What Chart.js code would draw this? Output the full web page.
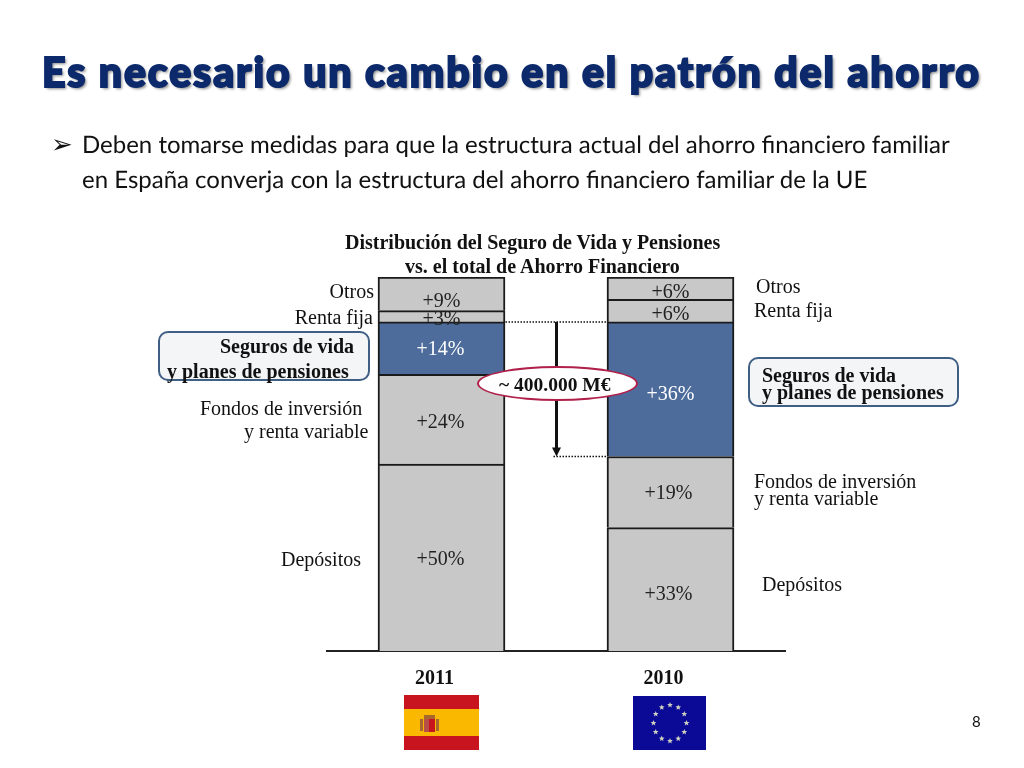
<!DOCTYPE html>
<html lang="es">
<head>
<meta charset="utf-8">
<title>Es necesario un cambio en el patrón del ahorro</title>
<script src="https://cdn.jsdelivr.net/npm/chart.js@4"></script>
<style>
  html, body { margin: 0; background: #fff; }
  #slide { position: relative; width: 1024px; height: 768px; overflow: hidden; }
  #salesChart { position: absolute; left: 0; top: 0; }
  .t { position: absolute; white-space: nowrap; line-height: 1; }
  .serif { font-family: "Liberation Serif", serif; font-size: 20px; color: #111; }
  .b { font-weight: bold; }
  .r { text-align: right; }
  .body { font-family: Lato, sans-serif; font-size: 24px; color: #111; text-rendering: geometricPrecision; }
  #title { left: 42px; top: 51px; font-family: Lato, sans-serif; font-weight: 900; font-size: 41px; letter-spacing: 1.9px;
    color: #0c2a6b; -webkit-text-stroke: 2px #0c2a6b; text-shadow: 2px 2px 3px #888; }
  .box { position: absolute; background: #f4f5f7; border: 2px solid #3f5f85; border-radius: 10px; box-sizing: border-box; }
  #pill { position: absolute; left: 477px; top: 366px; width: 161px; height: 35px; background: #fff;
    border: 2px solid #b0204a; border-radius: 50%; box-sizing: border-box; }
</style>
</head>
<body>
<div id="slide">
  <canvas id="salesChart" width="1024" height="768"></canvas>

  <div id="title" class="t">Es necesario un cambio en el patrón del ahorro</div>
  <div class="t" style="left:51px;top:131px;font-family:'DejaVu Sans';font-size:26px;color:#111">➢</div>
  <div class="t body" style="left:82px;top:133px">Deben tomarse medidas para que la estructura actual del ahorro financiero familiar</div>
  <div class="t body" style="left:82px;top:168px">en España converja con la estructura del ahorro financiero familiar de la UE</div>

  <div class="t serif b" style="left:345px;top:232px">Distribución del Seguro de Vida y Pensiones</div>
  <div class="t serif b" style="left:405px;top:256px">vs. el total de Ahorro Financiero</div>

  <div class="t serif r" style="right:650px;top:281px">Otros</div>
  <div class="t serif r" style="right:651px;top:307px">Renta fija</div>
  <div class="box" style="left:158px;top:331px;width:212px;height:50px"></div>
  <div class="t serif b" style="left:220px;top:336px">Seguros de vida</div>
  <div class="t serif b" style="left:167px;top:361px">y planes de pensiones</div>
  <div class="t serif" style="left:200px;top:398px">Fondos de inversión</div>
  <div class="t serif" style="left:244px;top:421px">y renta variable</div>
  <div class="t serif" style="left:281px;top:549px">Depósitos</div>

  <div class="t serif" style="left:756px;top:276px">Otros</div>
  <div class="t serif" style="left:754px;top:300px">Renta fija</div>
  <div class="box" style="left:748px;top:357px;width:211px;height:50px"></div>
  <div class="t serif b" style="left:762px;top:365px">Seguros de vida</div>
  <div class="t serif b" style="left:762px;top:382px">y planes de pensiones</div>
  <div class="t serif" style="left:754px;top:471px">Fondos de inversión</div>
  <div class="t serif" style="left:754px;top:488px">y renta variable</div>
  <div class="t serif" style="left:762px;top:574px">Depósitos</div>

  <div id="pill"></div>
  <div class="t serif b" style="left:499px;top:375px;font-size:19.5px">~ 400.000 M€</div>

  <div class="t" style="left:972px;top:714px;font-family:Lato,sans-serif;font-size:15px;color:#111">8</div>
</div>

<script>
const years = ['2011', '2010'];
const depositos = [50, 33];
const fondos = [24, 19];
const seguros = [14, 36];
const rentaFija = [3, 6];
const otros = [9, 6];

// value of the dotted guide lines (top of seguros in each bar, and the level the 2011 bar should reach)
const guideTop = 88;
const guideBottom = 52;

const gray = '#c8c8c8';
const blue = '#4d6c9c';
const edge = '#1a1a1a';

function set(name, data, color) {
  return { label: name, data: data, backgroundColor: color, borderColor: edge, borderWidth: 2, barThickness: 127, stack: 's' };
}

// the percentages sit a little off centre in the slide, [dx, dy] per dataset and bar
const labelShift = [
  [[-1, 2], [-2, 5]],
  [[-1, 4], [-2, 2]],
  [[-1, 2], [0, 6]],
  [[0, 3], [0, 4]],
  [[0, 8], [0, 5]]
];

const valueLabels = {
  id: 'valueLabels',
  afterDatasetsDraw(chart) {
    const ctx = chart.ctx;
    ctx.save();
    ctx.font = '20px "Liberation Serif"';
    ctx.textAlign = 'center';
    ctx.textBaseline = 'middle';
    chart.data.datasets.forEach((ds, i) => {
      chart.getDatasetMeta(i).data.forEach((bar, j) => {
        ctx.fillStyle = ds.backgroundColor === blue ? '#fff' : '#222';
        const s = labelShift[i][j];
        ctx.fillText('+' + ds.data[j] + '%', bar.x + s[0], (bar.y + bar.base) / 2 + s[1]);
      });
    });
    ctx.restore();
  }
};

const guides = {
  id: 'guides',
  afterDatasetsDraw(chart) {
    const ctx = chart.ctx;
    const y = chart.scales.y;
    const yTop = y.getPixelForValue(guideTop);
    const yBot = y.getPixelForValue(guideBottom);
    const bars = chart.getDatasetMeta(0).data;
    const left = bars[0].x + 64;
    const right = bars[1].x - 63;
    const mid = 556.5;
    ctx.save();
    ctx.strokeStyle = '#111';
    ctx.lineWidth = 1.5;
    ctx.setLineDash([1.5, 1.5]);
    ctx.beginPath();
    ctx.moveTo(left, yTop); ctx.lineTo(right, yTop);
    ctx.moveTo(mid - 3, yBot); ctx.lineTo(right, yBot);
    ctx.stroke();
    ctx.setLineDash([]);
    ctx.lineWidth = 3;
    ctx.beginPath();
    ctx.moveTo(mid, yTop); ctx.lineTo(mid, yBot - 6);
    ctx.stroke();
    ctx.fillStyle = '#111';
    ctx.beginPath();
    ctx.moveTo(mid - 4.5, yBot - 9); ctx.lineTo(mid + 4.5, yBot - 9); ctx.lineTo(mid, yBot); ctx.closePath();
    ctx.fill();
    ctx.restore();
  }
};

function star(ctx, cx, cy, r) {
  ctx.beginPath();
  for (let i = 0; i < 10; i++) {
    const a = -Math.PI / 2 + i * Math.PI / 5;
    const q = i % 2 ? r * 0.45 : r;
    ctx.lineTo(cx + q * Math.cos(a), cy + q * Math.sin(a));
  }
  ctx.closePath();
  ctx.fill();
}

const flags = {
  id: 'flags',
  afterDraw(chart) {
    const ctx = chart.ctx;
    ctx.save();
    // Spain
    ctx.fillStyle = '#c8141e';
    ctx.fillRect(404, 695, 75, 55);
    ctx.fillStyle = '#fbb800';
    ctx.fillRect(404, 709, 75, 27);
    ctx.fillStyle = '#a8672c';
    ctx.fillRect(420, 719, 3, 12);
    ctx.fillRect(436, 719, 3, 12);
    ctx.fillRect(424, 715, 11, 4);
    ctx.fillStyle = '#b8504a';
    ctx.fillRect(424, 719, 5, 13);
    ctx.fillStyle = '#c8141e';
    ctx.fillRect(429, 719, 6, 13);
    // EU
    ctx.fillStyle = '#0a0a96';
    ctx.fillRect(633, 696, 73, 54);
    ctx.fillStyle = '#d0d0c0';
    for (let i = 0; i < 12; i++) {
      const a = i * Math.PI / 6;
      star(ctx, 670 + 16.5 * Math.sin(a), 723 - 18 * Math.cos(a), 3);
    }
    ctx.restore();
  }
};

new Chart(document.getElementById('salesChart').getContext('2d'), {
  type: 'bar',
  data: {
    labels: years,
    datasets: [
      set('Depósitos', depositos, gray),
      set('Fondos de inversión y renta variable', fondos, gray),
      set('Seguros de vida y planes de pensiones', seguros, blue),
      set('Renta fija', rentaFija, gray),
      set('Otros', otros, gray)
    ]
  },
  options: {
    responsive: false,
    animation: false,
    layout: { padding: { left: 327, right: 239, top: 277, bottom: 0 } },
    plugins: { legend: { display: false }, tooltip: { enabled: false } },
    scales: {
      x: {
        stacked: true,
        grid: { display: false },
        border: { color: '#222', width: 2 },
        ticks: { color: '#111', padding: 8, labelOffset: -7, maxRotation: 0, font: { family: '"Liberation Serif"', size: 20, weight: 'bold' } },
        afterFit(scale) { scale.height = 117; }
      },
      y: { stacked: true, display: false, min: 0, max: 100 }
    }
  },
  plugins: [valueLabels, guides, flags]
});
</script>
</body>
</html>
